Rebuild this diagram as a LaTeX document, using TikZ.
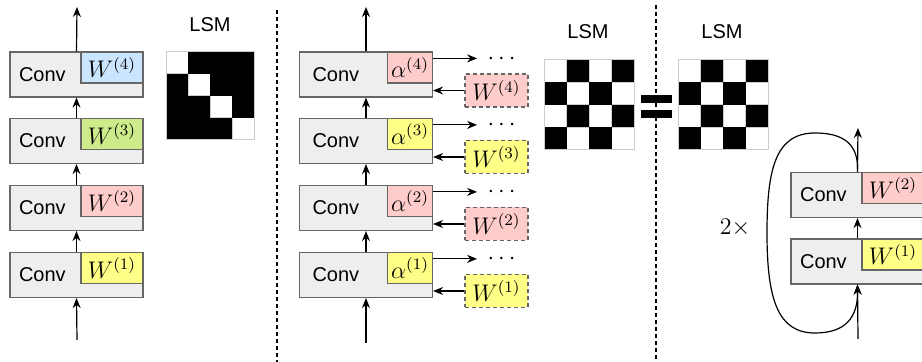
\documentclass[tikz,border=0pt]{standalone}
\usepackage{fontspec}
\setsansfont{Liberation Sans}
\usetikzlibrary{arrows.meta,positioning}
\definecolor{convgray}{HTML}{EEEEEE}
\definecolor{edgegray}{HTML}{666666}
\definecolor{gridgray}{HTML}{CCCCCC}
\definecolor{wblue}{HTML}{CCE5FF}
\definecolor{wgreen}{HTML}{CDEB8B}
\definecolor{wpink}{HTML}{FFCCCC}
\definecolor{wyellow}{HTML}{FFFF88}

\begin{document}
\begin{tikzpicture}[x=0.5pt, y=-0.5pt, >={Stealth[length=5pt,width=4pt]}]
		\tikzstyle{every node}=[font=\sffamily\fontsize{10}{12}\selectfont]
		\tikzstyle{convbox}=[draw=edgegray, fill=convgray, line width=0.6pt, minimum width=66.5pt, minimum height=22.5pt, inner sep=0pt]
		\tikzstyle{wbox}=[draw=edgegray, line width=0.6pt, minimum width=31pt, minimum height=15.5pt, inner sep=0pt, font=\fontsize{12}{14}\selectfont, anchor=north east]
		\tikzstyle{abox}=[wbox, minimum width=22.5pt]
		\tikzstyle{wdash}=[wbox, anchor=center, dash pattern=on 2pt off 1.5pt, minimum width=31.5pt, minimum height=16.5pt]
		\tikzstyle{link}=[->, line width=0.6pt]
		\tikzstyle{sep}=[line width=0.6pt, dash pattern=on 2pt off 1.5pt]
		\tikzstyle{lsmcell}=[draw=gridgray, line width=0.5pt]
		\useasboundingbox (0,0) rectangle (922,362);
		% plain stack
		\foreach \i/\yy/\col in {1/275/wyellow, 2/208/wpink, 3/141/wgreen, 4/74.5/wblue} {
			\node [convbox] (c\i) at (76.5,\yy) {};
			\node [wbox, fill=\col] (w\i) at (c\i.north east) {$W^{(\i)}$};
			\node (lc\i) at ([xshift=16.5pt]c\i.west) {Conv};
		}
		\coordinate (cin) at (77,340);
		\coordinate (cout) at (77,7);
		\draw [link] (cin) -- (c1.south);
		\draw [link] (c1.north) -- (c2.south);
		\draw [link] (c2.north) -- (c3.south);
		\draw [link] (c3.north) -- (c4.south);
		\draw [link] (c4.north) -- (cout);
		\node (lsma) at (210,25) {LSM};
		\foreach \r in {0,...,3}
			\foreach \c in {0,...,3} {
				\ifnum\r=\c
					\draw [lsmcell, fill=white] (166+22*\c,52+22*\r) rectangle ++(22,22);
				\fi
			}
		\foreach \r in {0,...,3}
			\foreach \c in {0,...,3} {
				\ifnum\r=\c\else
					\fill (166+22*\c,52+22*\r) rectangle ++(22,22);
				\fi
			}
		\draw [lsmcell] (166,52) rectangle (254,140);
		\draw [sep] (277,10) -- (277,362);
		% shared stack
		\foreach \i/\yy/\col in {1/275/wyellow, 2/208/wpink, 3/141/wyellow, 4/74.5/wpink} {
			\node [convbox] (m\i) at (366,\yy) {};
			\node [abox, fill=\col] (a\i) at (m\i.north east) {$\alpha^{(\i)}$};
			\node (lm\i) at ([xshift=18.5pt]m\i.west) {Conv};
			\draw [link] ([yshift=-3.5pt]a\i.north east) -- ++(22pt,0) coordinate (e\i);
			\node [anchor=base west, inner sep=0pt, font=\fontsize{12}{14}\selectfont] (d\i) at ([xshift=5pt,yshift=-3pt]e\i) {$\cdots$};
			\node [wdash, fill=\col] (wd\i) at (496.5,\yy+16) {$W^{(\i)}$};
			\draw [link] (wd\i.west) -- (wd\i.west -| m\i.east);
		}
		\coordinate (min) at (366,343);
		\coordinate (mout) at (366,7);
		\draw [link] (min) -- (m1.south);
		\draw [link] (m1.north) -- (m2.south);
		\draw [link] (m2.north) -- (m3.south);
		\draw [link] (m3.north) -- (m4.south);
		\draw [link] (m4.north) -- (mout);
		\node (lsmb) at (588,32) {LSM};
		\node (lsmc) at (722,32) {LSM};
		\foreach \ox in {544,678} {
			\foreach \r in {0,...,3}
				\foreach \c in {0,...,3} {
					\pgfmathtruncatemacro\odd{mod(\r+\c,2)}
					\ifnum\odd=0
						\draw [lsmcell, fill=white] (\ox+22.5*\c,60+22.5*\r) rectangle ++(22.5,22.5);
					\fi
				}
			\foreach \r in {0,...,3}
				\foreach \c in {0,...,3} {
					\pgfmathtruncatemacro\odd{mod(\r+\c,2)}
					\ifnum\odd=1
						\fill (\ox+22.5*\c,60+22.5*\r) rectangle ++(22.5,22.5);
					\fi
				}
			\draw [lsmcell] (\ox,60) rectangle ++(90,90);
		}
		\fill (641,95) rectangle (672,103);
		\fill (641,110) rectangle (672,118);
		\draw [sep] (656,5) -- (656,362);
		% repeated stack
		\node [convbox] (r1) at (857.5,261.5) {};
		\node [wbox, fill=wyellow] (rw1) at (r1.north east) {$W^{(1)}$};
		\node (lr1) at ([xshift=16.5pt]r1.west) {Conv};
		\node [convbox] (r2) at (857.5,195) {};
		\node [wbox, fill=wpink] (rw2) at (r2.north east) {$W^{(2)}$};
		\node (lr2) at ([xshift=16.5pt]r2.west) {Conv};
		\coordinate (rin) at (858,339);
		\coordinate (rout) at (858,128);
		\draw [link] (rin) -- (r1.south);
		\draw [link] (r1.north) -- (r2.south);
		\draw [link] (r2.north) -- (rout);
		\draw [link] ([yshift=1.5pt]r2.north) .. controls (858,143) and (842,133) .. (815,133)
			.. controls (775,133) and (767,170) .. (767,233)
			.. controls (767,300) and (778,333) .. (815,333)
			.. controls (845,333) and (858,318) .. (r1.south);
		\node [font=\fontsize{12}{14}\selectfont] (rep) at (735,228) {$2\times$};
\end{tikzpicture}
\end{document}
